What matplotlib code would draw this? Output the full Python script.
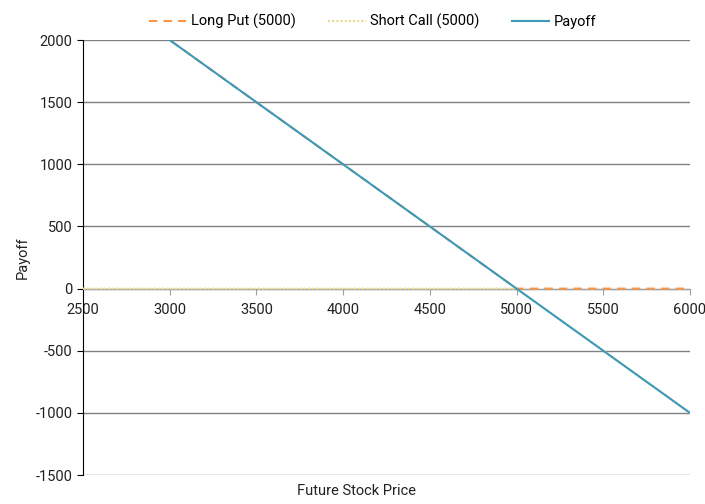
import numpy as np
import matplotlib
matplotlib.use("Agg")
import matplotlib.pyplot as plt

plt.rcParams['font.family'] = ['Roboto', 'DejaVu Sans']
plt.rcParams['axes.unicode_minus'] = False

# stock prices at expiry and strike
prices = [2500, 3000, 3500, 4000, 4500, 5000, 5500, 6000]
strike = 5000

long_put = [max(strike - p, 0) for p in prices]
short_call = [-max(p - strike, 0) for p in prices]
payoff = [a + b for a, b in zip(long_put, short_call)]

y_ticks = [-1500, -1000, -500, 0, 500, 1000, 1500, 2000]

fig = plt.figure(figsize=(7.05, 5.04), dpi=100)
ax = fig.add_axes([0.1177, 0.0575, 0.861, 0.863])

ax.plot(prices, long_put, color='#F79646', lw=1.5, ls=(0, (4, 3)), label='Long Put (5000)', zorder=3)
ax.plot(prices, short_call, color='#EADB8A', lw=1.5, ls=(0, (1, 1)), label='Short Call (5000)', zorder=3)
ax.plot(prices, payoff, color='#3B9AB9', lw=1.5, label='Payoff', zorder=4)

ax.set_xlim(2500, 6000)
ax.set_ylim(-1500, 2000)
ax.set_xticks(prices)
ax.set_yticks(y_ticks)
ax.yaxis.grid(True, color='#808080', lw=1)
ax.set_axisbelow(True)

for s in ['top', 'right']:
    ax.spines[s].set_visible(False)
ax.spines['left'].set_color('black')
ax.spines['bottom'].set_position(('data', 0))
ax.spines['bottom'].set_color('#A0A0A0')
ax.tick_params(axis='x', colors='#A0A0A0', labelcolor='#222222', length=4, labelsize=10.5, pad=6)
ax.tick_params(axis='y', colors='black', labelcolor='#222222', length=4, labelsize=10.5)

ax.set_ylabel('Payoff', fontsize=10.5, color='#222222')
fig.text(0.505, 0.018, 'Future Stock Price', ha='center', fontsize=10.5, color='#222222')

ax.legend(loc='lower center', bbox_to_anchor=(0.477, 0.995), ncol=3, frameon=False,
          fontsize=10.5, handlelength=2.6, handletextpad=0.3, columnspacing=2.2)

fig.savefig('out.png', dpi=100)
